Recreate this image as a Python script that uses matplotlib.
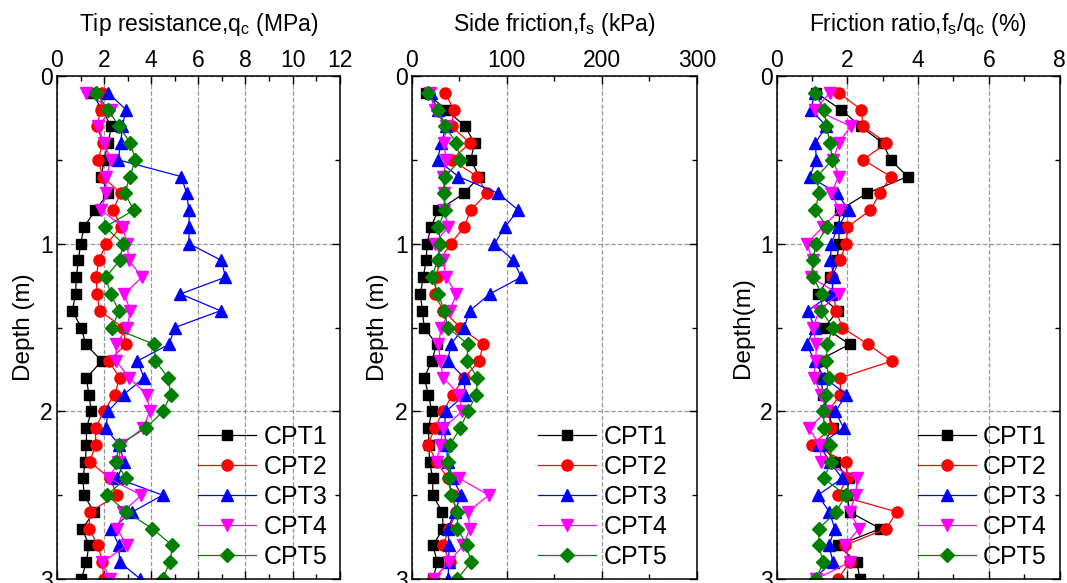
import matplotlib
matplotlib.use('Agg')
import matplotlib.pyplot as plt
from matplotlib.ticker import MultipleLocator

plt.rcParams['font.family'] = ['Liberation Sans', 'DejaVu Sans']
plt.rcParams['mathtext.default'] = 'regular'

depth = [0.1, 0.2, 0.3, 0.4, 0.5, 0.6, 0.7, 0.8, 0.9, 1.0,
         1.1, 1.2, 1.3, 1.4, 1.5, 1.6, 1.7, 1.8, 1.9, 2.0,
         2.1, 2.2, 2.3, 2.4, 2.5, 2.6, 2.7, 2.8, 2.9, 3.0]
names = ['CPT1', 'CPT2', 'CPT3', 'CPT4', 'CPT5']

# tip resistance qc (MPa)
qc_cpt1 = [1.5, 1.9, 2.31, 2.17, 2.0, 1.88, 2.17, 1.63, 1.15, 1.0,
           0.91, 0.82, 0.79, 0.65, 1.03, 1.22, 1.9, 1.25, 1.35, 1.46,
           1.25, 1.25, 1.2, 1.1, 1.15, 1.57, 1.08, 1.35, 1.25, 1.03]
qc_cpt2 = [1.9, 1.86, 1.7, 1.95, 1.74, 1.95, 2.7, 2.38, 2.73, 2.1,
           1.77, 1.67, 1.7, 1.81, 2.8, 2.92, 2.2, 2.66, 2.45, 1.98,
           1.64, 1.64, 1.39, 2.24, 2.56, 1.39, 1.36, 1.74, 1.93, 1.98]
qc_cpt3 = [2.17, 2.92, 2.78, 2.7, 2.6, 5.28, 5.5, 5.6, 5.61, 5.6,
           6.98, 7.15, 5.24, 6.94, 5.0, 4.76, 3.41, 3.7, 2.83, 2.17,
           2.07, 2.63, 2.85, 2.56, 4.48, 3.2, 2.31, 2.62, 2.66, 3.54]
qc_cpt4 = [1.25, 2.31, 1.74, 2.0, 2.28, 2.1, 2.07, 1.88, 2.8, 2.97,
           3.06, 3.61, 2.85, 3.12, 2.97, 2.52, 2.52, 3.06, 3.8, 3.94,
           3.65, 2.73, 2.6, 2.2, 3.58, 2.8, 2.55, 2.97, 1.93, 2.24]
qc_cpt5 = [1.67, 2.17, 2.63, 3.12, 3.33, 3.09, 2.88, 3.26, 2.05, 2.8,
           2.66, 2.07, 2.28, 2.62, 2.35, 4.12, 4.18, 4.72, 4.83, 4.5,
           3.77, 2.62, 2.52, 2.92, 2.12, 2.95, 4.05, 4.9, 4.79, 4.48]

# side friction fs (kPa)
fs_cpt1 = [15, 36, 56, 66, 62, 71, 55, 28, 20, 16,
           15, 12, 9, 11, 13, 26, 21, 13, 17.5, 21,
           17.5, 18, 18.6, 22, 22, 32, 33, 22, 27, 22]
fs_cpt2 = [35, 44, 42, 61, 42, 69, 79, 62, 55, 41,
           29, 26, 24, 33, 51, 75, 71, 55, 43, 33,
           24, 17, 26, 38, 43, 47, 39, 33, 40, 22]
fs_cpt3 = [20, 27, 36, 31, 27, 49, 91, 112, 98, 87,
           107, 115, 82, 61, 55, 41, 38, 55, 56, 36,
           34, 36, 38, 43, 52, 45, 38, 39, 39, 38]
fs_cpt4 = [19, 24, 36, 34, 36, 33, 34, 34, 38, 24,
           33, 36, 47, 40, 31, 28, 30, 33, 50, 53,
           33, 30, 26, 50, 81, 59, 61, 54, 39, 23]
fs_cpt5 = [17, 28, 35, 47, 51, 35, 34, 35, 28, 30,
           27, 21, 28, 34, 38, 59, 58, 69, 68, 59,
           51, 40, 38, 39, 41, 48, 48, 58, 62, 48]

# friction ratio fs/qc (%)
rf_cpt1 = [1.12, 1.81, 2.37, 3.0, 3.22, 3.7, 2.55, 1.78, 1.76, 1.76,
           1.7, 1.5, 1.16, 1.73, 1.35, 2.06, 1.16, 1.26, 1.3, 1.45,
           1.59, 1.3, 1.64, 2.03, 2.0, 2.06, 2.93, 1.73, 2.27, 2.35]
rf_cpt2 = [1.75, 2.39, 2.44, 3.1, 2.44, 3.23, 2.91, 2.65, 2.0, 1.97,
           1.78, 1.55, 1.6, 1.68, 1.85, 2.58, 3.25, 1.8, 1.8, 1.45,
           1.54, 1.0, 1.95, 2.0, 1.73, 3.39, 3.1, 1.92, 2.06, 1.73]
rf_cpt3 = [1.07, 0.97, 1.4, 1.09, 1.12, 0.93, 1.71, 2.03, 1.73, 1.54,
           1.52, 1.62, 1.54, 0.88, 1.07, 0.85, 1.07, 1.35, 1.97, 1.66,
           1.89, 1.2, 1.5, 1.85, 1.16, 1.49, 1.64, 1.48, 1.59, 1.02]
rf_cpt4 = [1.5, 1.09, 2.09, 1.75, 1.6, 1.75, 1.54, 1.78, 1.3, 0.85,
           1.02, 0.97, 1.75, 1.2, 1.02, 1.12, 1.1, 1.05, 1.26, 1.4,
           0.91, 1.21, 1.26, 2.28, 2.23, 2.06, 2.33, 1.92, 2.06, 1.12]
rf_cpt5 = [1.07, 1.35, 1.4, 1.51, 1.57, 1.14, 1.19, 1.09, 1.43, 1.12,
           1.02, 1.02, 1.28, 1.26, 1.59, 1.43, 1.4, 1.47, 1.4, 1.31,
           1.35, 1.51, 1.54, 1.33, 1.95, 1.68, 1.19, 1.19, 1.31, 1.12]

colors = ['k', 'r', 'b', 'magenta', 'green']
markers = ['s', 'o', '^', 'v', 'D']
msizes = [7, 8, 8.5, 8.5, 7]

panels = [
    ([qc_cpt1, qc_cpt2, qc_cpt3, qc_cpt4, qc_cpt5], 'Tip resistance,q$_c$ (MPa)', 12, 2, 1, 'Depth (m)'),
    ([fs_cpt1, fs_cpt2, fs_cpt3, fs_cpt4, fs_cpt5], 'Side friction,f$_s$ (kPa)', 300, 100, 50, 'Depth (m)'),
    ([rf_cpt1, rf_cpt2, rf_cpt3, rf_cpt4, rf_cpt5], 'Friction ratio,f$_s$/q$_c$ (%)', 8, 2, 1, 'Depth(m)'),
]
lefts = [0.0534, 0.386, 0.728]
widths = [0.265, 0.267, 0.265]
legend_x = [1.0, 0.94, 1.0]

fig = plt.figure(figsize=(10.67, 5.83), dpi=100)
for p in range(3):
    series, title, xmax, major, minor, ylab = panels[p]
    ax = fig.add_axes([lefts[p], 0.0069, widths[p], 0.8627])
    for i in range(5):
        ax.plot(series[i], depth, color=colors[i], marker=markers[i],
                markersize=msizes[i], linewidth=0.9, label=names[i])
    ax.set_xlim(0, xmax)
    ax.set_ylim(3, 0)
    ax.xaxis.set_major_locator(MultipleLocator(major))
    ax.xaxis.set_minor_locator(MultipleLocator(minor))
    ax.yaxis.set_major_locator(MultipleLocator(1))
    ax.yaxis.set_minor_locator(MultipleLocator(0.5))
    ax.xaxis.tick_top()
    ax.xaxis.set_label_position('top')
    ax.tick_params(which='both', direction='in', top=True, bottom=True,
                   left=True, right=True, labelsize=16.5, width=1)
    ax.tick_params(which='major', length=6, pad=3)
    ax.tick_params(which='minor', length=3.5)
    ax.grid(True, which='major', linestyle='--', color='gray', alpha=0.8, linewidth=0.9)
    ax.set_xlabel(title, fontsize=16.5, labelpad=13)
    ax.set_ylabel(ylab, fontsize=17.5, labelpad=4)
    for s in ax.spines.values():
        s.set_linewidth(1.1)
    ax.legend(loc='lower right', frameon=False, fontsize=18, handlelength=2.3,
              handletextpad=0.3, labelspacing=0.24, borderaxespad=0.1,
              bbox_to_anchor=(legend_x[p], -0.005))

plt.savefig('out.png', dpi=100)
plt.close()
